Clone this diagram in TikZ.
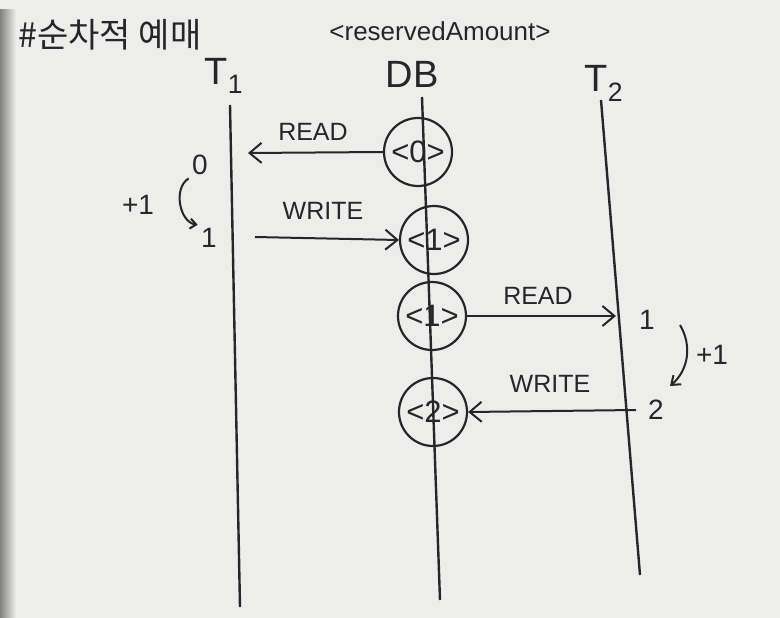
\documentclass[tikz,border=0pt]{standalone}
\usepackage{fontspec}
\setmainfont{Liberation Sans}
\newfontfamily\krfont{Noto Sans CJK KR}
\usetikzlibrary{arrows.meta}
\definecolor{ink}{RGB}{38,38,40}
\definecolor{paper}{RGB}{237,238,236}
\definecolor{gutter}{RGB}{130,130,128}
\tikzset{
  lifeline/.style={ink, line width=2.4pt},
  dbval/.style={circle, draw=ink, line width=2.2pt, minimum size=68pt, inner sep=0pt, font=\fontsize{31}{31}\selectfont, text=ink},
  msg/.style={ink, line width=2pt, -{Straight Barb[length=12pt,width=20pt]}},
  lbl/.style={text=ink, font=\fontsize{25}{25}\selectfont},
  num/.style={text=ink, font=\fontsize{28}{28}\selectfont},
  head/.style={text=ink, font=\fontsize{38}{38}\selectfont}
}
\begin{document}
\begin{tikzpicture}[x=1pt, y=-1pt]
  \useasboundingbox (0,0) rectangle (780,618);
  \fill[paper] (0,0) rectangle (780,618);
  \shade[left color=gutter, right color=paper] (0,10) rectangle (16,618);
  % titles
  \node[text=ink, font=\krfont\fontsize{34}{34}\selectfont] (title) at (110,35) {\#순차적 예매};
  \node[text=ink, font=\fontsize{26}{26}\selectfont] (attr) at (440,31) {<reservedAmount>};
  \node[head] (t1) at (224,76) {T\textsubscript{1}};
  \node[head] (db) at (412,74) {DB};
  \node[head] (t2) at (604,83) {T\textsubscript{2}};
  % lifelines
  \coordinate (t1top) at (230,105);
  \coordinate (t1bot) at (240,607);
  \coordinate (dbtop) at (422,97);
  \coordinate (dbbot) at (440,600);
  \coordinate (t2top) at (601,100);
  \coordinate (t2bot) at (640,575);
  \draw[lifeline] (t1top) -- (t1bot);
  \draw[lifeline] (t2top) -- (t2bot);
  % values in DB
  \node[dbval] (c0) at (418,152) {<0>};
  \node[dbval] (c1) at (434,240) {<1>};
  \node[dbval] (c2) at (432,316) {<1>};
  \node[dbval] (c3) at (433,412) {<2>};
  \draw[lifeline] (dbtop) -- (dbbot);
  % T1 side
  \coordinate (r1end) at (248,153);
  \coordinate (w1start) at (255,237);
  \draw[msg] (c0.west) -- (r1end);
  \node[lbl] (read1) at (313,132) {READ};
  \draw[msg] (w1start) -- (c1.west);
  \node[lbl] (write1) at (323,211) {WRITE};
  \node[num] (v0) at (200,165) {0};
  \node[num] (v1) at (209,238) {1};
  \draw[ink, line width=2pt, -{Straight Barb[length=6pt,width=10pt]}] (v0.south west) to[bend right=70] (v1.north west);
  \node[num] (inc1) at (138,205) {+1};
  % T2 side
  \coordinate (r2end) at (616,316);
  \coordinate (w2start) at (636,410);
  \draw[msg] (c2.east) -- (r2end);
  \node[lbl] (read2) at (538,296) {READ};
  \draw[msg] (w2start) -- (c3.east);
  \node[lbl] (write2) at (550,384) {WRITE};
  \node[num] (v2) at (647,320) {1};
  \node[num] (v3) at (656,410) {2};
  \draw[ink, line width=2pt, -{Straight Barb[length=8pt,width=12pt]}] (680,325) to[bend left=40] (670,386);
  \node[num] (inc2) at (712,355) {+1};
\end{tikzpicture}
\end{document}
